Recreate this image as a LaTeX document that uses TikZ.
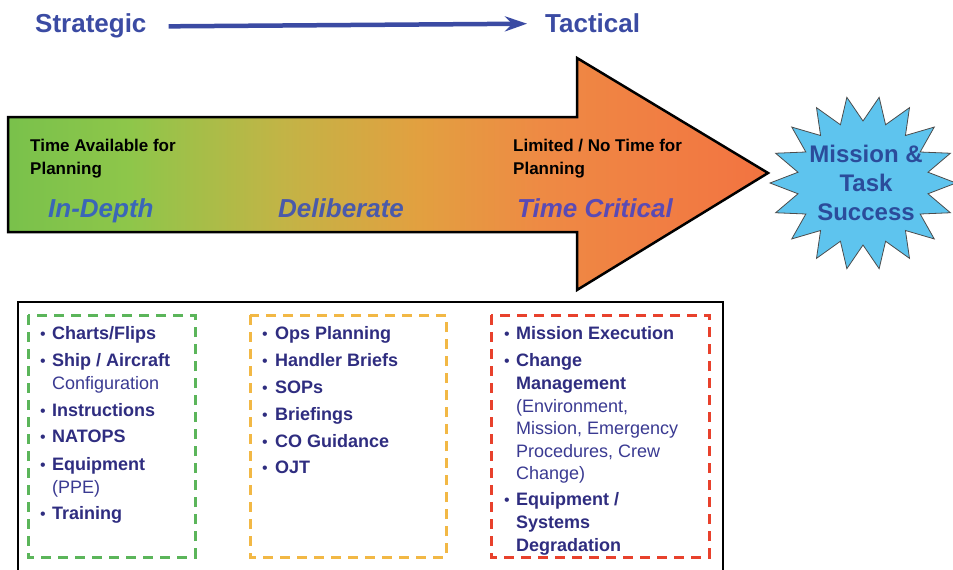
\documentclass[tikz,border=0pt]{standalone}
\usepackage{fontspec}
\setmainfont{Liberation Sans}
\usetikzlibrary{arrows.meta}

\definecolor{titleblue}{HTML}{3B4BA3}
\definecolor{itemc}{HTML}{2F2D80}
\definecolor{itemreg}{HTML}{3A3A92}
\definecolor{stage1}{HTML}{3A66B8}
\definecolor{stage2}{HTML}{4A5AAA}
\definecolor{stage3}{HTML}{5A4AB4}
\definecolor{starfill}{HTML}{5EC4EE}
\definecolor{startext}{HTML}{2B4C9B}
\definecolor{dgreen}{HTML}{5BB55A}
\definecolor{dorange}{HTML}{F2B845}
\definecolor{dred}{HTML}{E8412C}

\definecolor{g0}{HTML}{48B04C}
\definecolor{g1}{HTML}{6CBE4C}
\definecolor{g2}{HTML}{8EC64A}
\definecolor{g3}{HTML}{C2B446}
\definecolor{g4}{HTML}{E2A040}
\definecolor{g5}{HTML}{EE8A44}
\definecolor{g6}{HTML}{F27842}
\definecolor{g7}{HTML}{EE5C36}
\definecolor{g8}{HTML}{E84A30}
\pgfdeclarehorizontalshading{timegrad}{100bp}{%
  color(0bp)=(g0); color(20bp)=(g1); color(33bp)=(g2); color(43bp)=(g3);
  color(52bp)=(g4); color(60bp)=(g5); color(72bp)=(g6); color(88bp)=(g7);
  color(100bp)=(g8)}

\tikzset{
  headline/.style={font=\bfseries\fontsize{26}{26}\selectfont, text=titleblue, inner sep=0},
  arrowtxt/.style={font=\bfseries\fontsize{17}{17}\selectfont, text=black, anchor=base west, inner sep=0},
  stage/.style={font=\bfseries\itshape\fontsize{26}{26}\selectfont, anchor=base west, inner sep=0},
  bitem/.style={font=\bfseries\fontsize{18}{18}\selectfont, text=itemc, anchor=base west, inner sep=0},
  ritem/.style={font=\fontsize{18}{18}\selectfont, text=itemreg, anchor=base west, inner sep=0},
  bul/.style={font=\fontsize{16}{16}\selectfont, text=itemc, anchor=base west, inner sep=0},
  dashbox/.style={line width=3pt, dash pattern=on 10pt off 7pt},
}

\begin{document}
\begin{tikzpicture}[x=1pt,y=-1pt]
\useasboundingbox (0,0) rectangle (953,570);
\clip (0,0) rectangle (953,570);
\fill[white] (0,0) rectangle (953,570);

% strategic -> tactical scale
\node[headline, anchor=base west] (strat) at (35,32) {Strategic};
\node[headline, anchor=base west] (tact) at (545,32) {Tactical};
\draw[titleblue, line width=4.5pt, -{Stealth[length=22pt,width=15pt]}]
  ([xshift=22pt,yshift=-1pt]strat.east) -- ([xshift=-18pt,yshift=-1pt]tact.west);

% big time arrow
\shade[shading=timegrad, draw=black, line width=2.5pt, line join=miter]
  (8,117) -- (577,117) -- (577,58) -- (768,173) -- (577,290) -- (577,232) -- (8,232) -- cycle;

\node[arrowtxt] (avail1) at (30,151) {Time Available for};
\node[arrowtxt] (avail2) at (30,174) {Planning};
\node[arrowtxt] (lim1) at (513,151) {Limited / No Time for};
\node[arrowtxt] (lim2) at (513,174) {Planning};

\node[stage, text=stage1] (indepth) at (48,217) {In-Depth};
\node[stage, text=stage2] (delib) at (278,217) {Deliberate};
\node[stage, text=stage3] (tcrit) at (517,217) {Time Critical};

% mission success starburst
\begin{scope}[shift={(863,183)}]
  \filldraw[fill=starfill, draw=black!70, line width=0.8pt, line join=miter]
    (0:93 and 87) \foreach \i in {1,...,35} {
      -- ({\i*10}:{ifthenelse(mod(\i,2)==0,93,66)} and {ifthenelse(mod(\i,2)==0,87,62)})
    } -- cycle;
\end{scope}
\node[font=\bfseries\fontsize{24}{29}\selectfont, text=startext, align=center, inner sep=0]
  (success) at (866,183) {Mission \&\\Task\\Success};

% practices panel
\draw[black, line width=2.5pt] (18,302) rectangle (723,580);
\draw[dgreen, dashbox] (28,315) rectangle (195,557);
\draw[dorange, dashbox] (250,315) rectangle (446,557);
\draw[dred, dashbox] (491,315) rectangle (709,557);

% in-depth column
\node[bul] (ba1) at (40,339) {•};
\node[bitem] (a1) at (52,339) {Charts/Flips};
\node[bul] (ba2) at (40,366) {•};
\node[bitem] (a2) at (52,366) {Ship / Aircraft};
\node[ritem] (a2b) at (52,389) {Configuration};
\node[bul] (ba3) at (40,416) {•};
\node[bitem] (a3) at (52,416) {Instructions};
\node[bul] (ba4) at (40,442) {•};
\node[bitem] (a4) at (52,442) {NATOPS};
\node[bul] (ba5) at (40,470) {•};
\node[bitem] (a5) at (52,470) {Equipment};
\node[ritem] (a5b) at (52,493) {(PPE)};
\node[bul] (ba6) at (40,519) {•};
\node[bitem] (a6) at (52,519) {Training};

% deliberate column
\node[bul] (bb1) at (262,339) {•};
\node[bitem] (b1) at (275,339) {Ops Planning};
\node[bul] (bb2) at (262,366) {•};
\node[bitem] (b2) at (275,366) {Handler Briefs};
\node[bul] (bb3) at (262,393) {•};
\node[bitem] (b3) at (275,393) {SOPs};
\node[bul] (bb4) at (262,420) {•};
\node[bitem] (b4) at (275,420) {Briefings};
\node[bul] (bb5) at (262,447) {•};
\node[bitem] (b5) at (275,447) {CO Guidance};
\node[bul] (bb6) at (262,473) {•};
\node[bitem] (b6) at (275,473) {OJT};

% time critical column
\node[bul] (bc1) at (504,339) {•};
\node[bitem] (c1) at (516,339) {Mission Execution};
\node[bul] (bc2) at (504,366) {•};
\node[bitem] (c2) at (516,366) {Change};
\node[bitem] (c2b) at (516,389) {Management};
\node[ritem] (c2c) at (516,412) {(Environment,};
\node[ritem] (c2d) at (516,434) {Mission, Emergency};
\node[ritem] (c2e) at (516,457) {Procedures, Crew};
\node[ritem] (c2f) at (516,479) {Change)};
\node[bul] (bc3) at (504,505) {•};
\node[bitem] (c3) at (516,505) {Equipment /};
\node[bitem] (c3b) at (516,528) {Systems};
\node[bitem] (c3c) at (516,551) {Degradation};
\end{tikzpicture}
\end{document}
